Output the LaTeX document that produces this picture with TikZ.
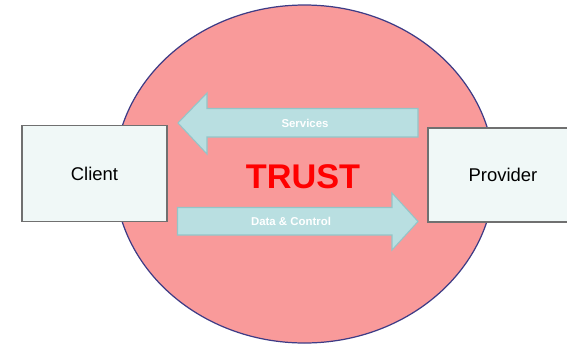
\documentclass[tikz,border=0pt]{standalone}
\usepackage{fontspec}
\setmainfont{Liberation Sans}
\usepackage{tikz}
\usetikzlibrary{calc}
\usepackage{xcolor}

\definecolor{trustpink}{HTML}{F99A9A}
\definecolor{rimblue}{HTML}{3E3C86}
\definecolor{boxfill}{HTML}{F0F8F7}
\definecolor{boxline}{HTML}{707070}
\definecolor{flowfill}{HTML}{B9DFE1}
\definecolor{flowline}{HTML}{94C5C8}

\tikzset{
  party/.style={draw=boxline, line width=1pt, fill=boxfill, inner sep=0pt,
    font=\fontsize{10.5}{12}\selectfont},
  flow/.style={draw=flowline, line width=0.6pt, fill=flowfill},
  flowtext/.style={text=white, font=\fontsize{6.5}{8}\selectfont\bfseries}
}

\begin{document}
\begin{tikzpicture}[x=0.02cm, y=-0.02cm]
  \useasboundingbox (0,0) rectangle (567,345);

  % The trust zone
  \filldraw[fill=trustpink, draw=rimblue, line width=0.7pt] (304.5,174) ellipse (190 and 169);

  % The two parties
  \node[party, minimum width=145*0.02cm, minimum height=96*0.02cm] (client) at (94.5,173.5) {Client};
  \node[party, minimum width=150*0.02cm, minimum height=94*0.02cm] (provider) at (503,175) {Provider};

  % Services arrow, pointing at the client
  \coordinate (srvtip) at (178,123);
  \filldraw[flow] (srvtip) -- (207,93) -- (207,108.5) -- (418,108.5)
    -- (418,137) -- (207,137) -- (207,154) -- cycle;
  \node[flowtext] (services) at (305,123) {Services};

  % Data & Control arrow, pointing at the provider
  \coordinate (dattip) at (418,221.5);
  \filldraw[flow] (177.5,207.5) -- (392,207.5) -- (392,193) -- (dattip)
    -- (392,250) -- (392,235) -- (177.5,235) -- cycle;
  \node[flowtext] (data) at (291,221.5) {Data \& Control};

  % Label in the middle
  \node[text=red, font=\fontsize{19.5}{22}\selectfont\bfseries] (trust) at (303,176.5) {TRUST};
\end{tikzpicture}
\end{document}
